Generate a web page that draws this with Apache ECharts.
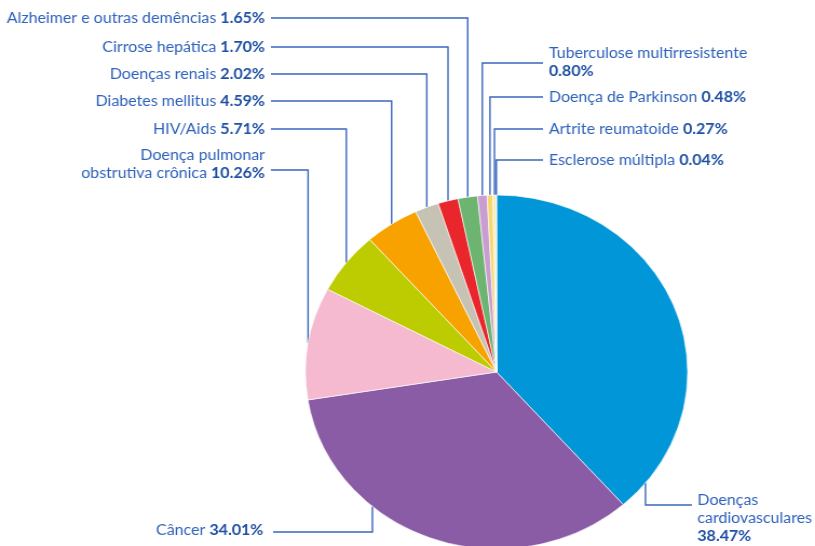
<!DOCTYPE html>
<html><head><meta charset="utf-8">
<script src="https://cdn.jsdelivr.net/npm/echarts@6/dist/echarts.min.js"></script>
<style>
html,body{margin:0;padding:0;background:#fff;overflow:hidden}
#wrap{width:815px;height:546px;overflow:hidden;background:#fff}
#c{width:755px;height:546px;transform:scaleX(1.0795);transform-origin:0 0}
</style>
</head><body><div id="wrap"><div id="c"></div></div>
<script>
// ---- data ----
const categories = [
  'Doenças\ncardiovasculares',
  'Câncer',
  'Doença pulmonar\nobstrutiva crônica',
  'HIV/Aids',
  'Diabetes mellitus',
  'Doenças renais',
  'Cirrose hepática',
  'Alzheimer e outras demências',
  'Tuberculose multirresistente',
  'Doença de Parkinson',
  'Artrite reumatoide',
  'Esclerose múltipla'
];
const values = [38.47, 34.01, 10.26, 5.71, 4.59, 2.02, 1.70, 1.65, 0.80, 0.48, 0.27, 0.04];

// ---- styles / layout ----
const colors = ['#0096d8', '#8b5ca6', '#f5bad0', '#bdcc00', '#f8a200', '#c6c2b4',
                '#e8262b', '#6cb46f', '#c99dd0', '#f4d873', '#f9eab0', '#8fcbe9'];
const CX = 460, CY = 372, R = 177;
const layoutCfg = [
  {side: 'right', lineY: 505, textY: 518, endX: 641, textX: 646, along: 0.93, valNewLine: true},
  {side: 'left', lineY: 532, textY: 530, endX: 253, textX: 244, along: 0.67},
  {side: 'left', lineY: 170, textY: 164, endX: 251, textX: 245.5},
  {side: 'left', lineY: 129, textY: 129, endX: 251, textX: 245.5},
  {side: 'left', lineY: 101, textY: 101, endX: 251, textX: 245.5},
  {side: 'left', lineY: 74, textY: 74, endX: 251, textX: 245.5},
  {side: 'left', lineY: 47, textY: 47, endX: 251, textX: 245.5},
  {side: 'left', lineY: 18, textY: 18, endX: 251, textX: 245.5},
  {side: 'right', lineY: 63, textY: 62, endX: 503, textX: 508.5, valNewLine: true},
  {side: 'right', lineY: 97, textY: 97, endX: 503, textX: 508.5},
  {side: 'right', lineY: 129, textY: 129, endX: 503, textX: 508.5},
  {side: 'right', lineY: 160, textY: 160, endX: 503, textX: 508.5}
];

const total = values.reduce((a, b) => a + b, 0);
const cum = [];
values.reduce((acc, v, i) => { cum[i] = [acc / total, (acc + v) / total]; return acc + v; }, 0);

function anchor(i) {
  const along = layoutCfg[i].along == null ? 0.5 : layoutCfg[i].along;
  const f = cum[i][0] + along * (cum[i][1] - cum[i][0]);
  const t = f * Math.PI * 2;
  return [CX + R * Math.sin(t), CY - R * Math.cos(t)];
}

const chart = echarts.init(document.getElementById('c'), null, {renderer: 'canvas'});
chart.setOption({
  animation: false,
  backgroundColor: '#fff',
  color: colors,
  series: [{
    type: 'pie',
    center: [CX, CY],
    radius: [0, R],
    startAngle: 90,
    clockwise: true,
    avoidLabelOverlap: false,
    itemStyle: {borderColor: 'rgba(255,255,255,0.8)', borderWidth: 0.8},
    data: categories.map((n, i) => ({name: n, value: values[i]})),
    label: {
      show: true,
      position: 'outside',
      fontFamily: 'Lato',
      formatter: p => {
        const i = p.dataIndex;
        const lines = categories[i].split('\n').map(s => '{n|' + s + '}');
        const v = '{v|' + values[i].toFixed(2) + '%}';
        if (layoutCfg[i].valNewLine) return lines.join('\n') + '\n' + v;
        lines[lines.length - 1] += '{n| }' + v;
        return lines.join('\n');
      },
      rich: {
        n: {fontFamily: 'Lato', fontSize: 14.8, color: '#2f62bb', lineHeight: 18},
        v: {fontFamily: 'Lato', fontSize: 14.8, fontWeight: 'bold', color: '#1f50a4', lineHeight: 18}
      }
    },
    labelLine: {show: true, length: 10, length2: 10, smooth: false,
      lineStyle: {color: '#3a67c0', width: 1.4}},
    labelLayout: function (params) {
      const i = params.dataIndex;
      const c = layoutCfg[i];
      const a = anchor(i);
      return {
        x: c.textX,
        y: c.textY,
        align: c.side === 'left' ? 'right' : 'left',
        verticalAlign: 'middle',
        hideOverlap: false,
        labelLinePoints: [a, [a[0], c.lineY], [c.endX, c.lineY]]
      };
    },
    emphasis: {disabled: true}
  }]
});
</script>
</body></html>
